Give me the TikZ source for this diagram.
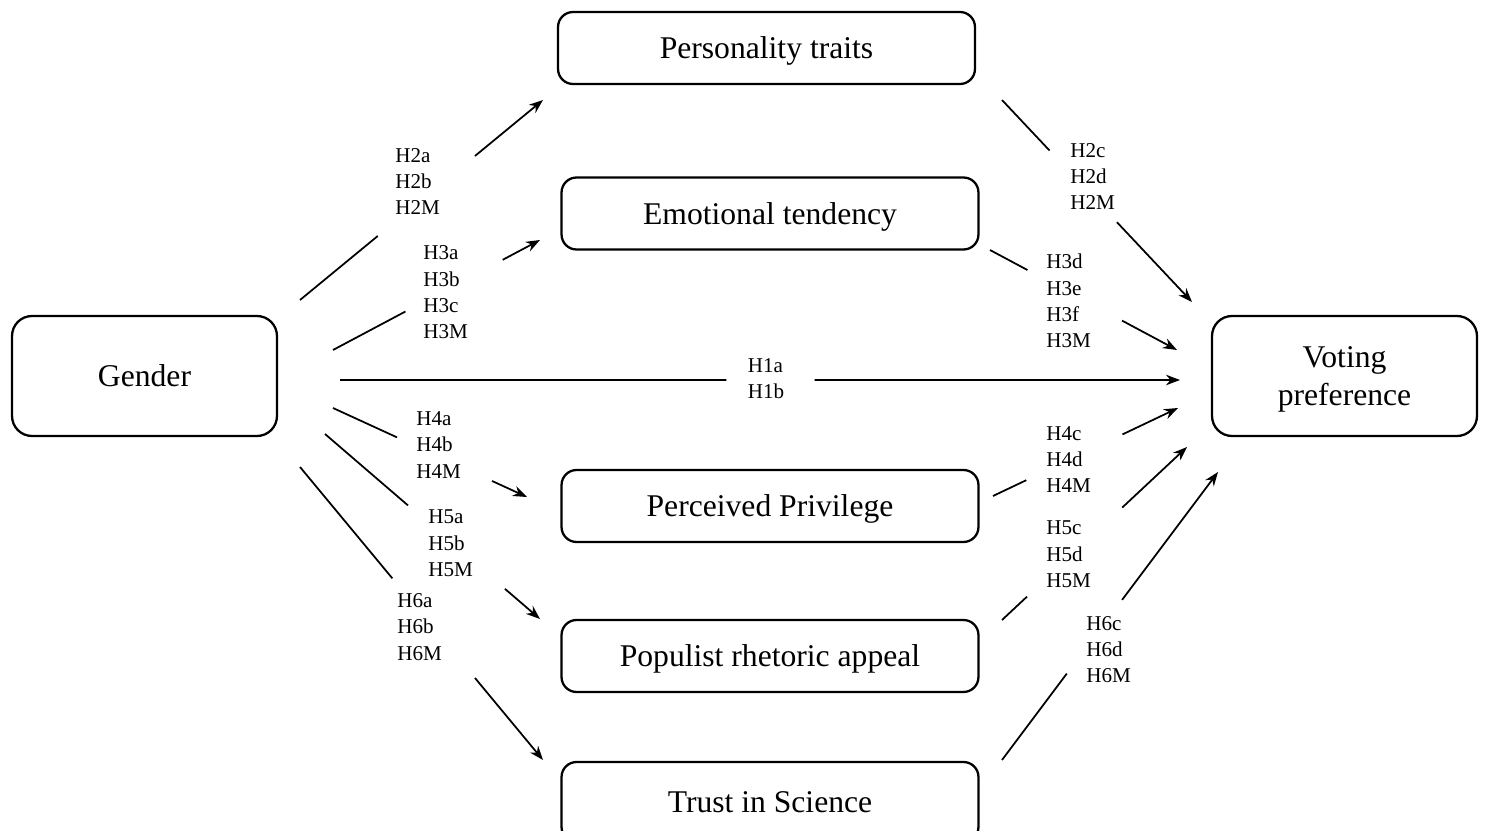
\documentclass[tikz,border=0pt]{standalone}
\usepackage{fontspec}
\setmainfont{Liberation Serif}
\usetikzlibrary{calc,arrows.meta}

\begin{document}
\begin{tikzpicture}[x=0.02cm,y=-0.02cm,
  box/.style={draw,line width=1.3pt,rounded corners=0.3cm,minimum width=8.34cm,%
  minimum height=1.44cm,text depth=0pt,font=\fontsize{18}{21.6}\selectfont},
  side/.style={box,rounded corners=0.4cm,minimum width=5.3cm,minimum height=2.4cm,align=center},
  hyp/.style={anchor=west,inner sep=0pt,align=left,font=\fontsize{12}{15}\selectfont},
  link/.style={line width=1pt},
  tip/.style={link,-{Stealth[length=8pt,width=6pt]}}]
\useasboundingbox (0,0) rectangle (1485,831);

% boxes
\node[side] (G) at (144.5,376) {Gender};
\node[side] (V) at (1344.5,376) {Voting\\preference};
\node[box] (P) at (766.5,48) {Personality traits};
\node[box] (E) at (770,213.5) {Emotional tendency};
\node[box] (R) at (770,506) {Perceived Privilege};
\node[box] (Q) at (770,656) {Populist rhetoric appeal};
\node[box,minimum height=1.6cm] (S) at (770,802) {Trust in Science};

% ends of the arrows
\coordinate (G1) at (340,380);  \coordinate (V1) at (1180,380);
\coordinate (G2) at (300,300);  \coordinate (P2) at (543,100);
\coordinate (G3) at (333,350);  \coordinate (E3) at (540,240);
\coordinate (G4) at (333,408);  \coordinate (R4) at (527,497);
\coordinate (G5) at (325,434);  \coordinate (Q5) at (540,619);
\coordinate (G6) at (300,467);  \coordinate (S6) at (543,760);
\coordinate (P7) at (1002,100); \coordinate (V7) at (1192,302);
\coordinate (E8) at (990,250);  \coordinate (V8) at (1177,350);
\coordinate (R9) at (993,496);  \coordinate (V9) at (1178,408);
\coordinate (Q10) at (1002,620); \coordinate (V10) at (1187,447);
\coordinate (S11) at (1002,760); \coordinate (V11) at (1218,472);

% gender to mediators and outcome
\draw[link] (G1) -- ($(G1)!0.46!(V1)$);
\draw[tip] ($(G1)!0.565!(V1)$) -- (V1);
\node[hyp,anchor=center] (h1) at (766,378.5) {H1a\\H1b};

\draw[link] (G2) -- ($(G2)!0.32!(P2)$);
\draw[tip] ($(G2)!0.72!(P2)$) -- (P2);
\node[hyp] (h2ab) at (395,181.5) {H2a\\H2b\\H2M};

\draw[link] (G3) -- ($(G3)!0.35!(E3)$);
\draw[tip] ($(G3)!0.82!(E3)$) -- (E3);
\node[hyp] (h3abc) at (423,292.5) {H3a\\H3b\\H3c\\H3M};

\draw[link] (G4) -- ($(G4)!0.33!(R4)$);
\draw[tip] ($(G4)!0.82!(R4)$) -- (R4);
\node[hyp] (h4ab) at (416,445) {H4a\\H4b\\H4M};

\draw[link] (G5) -- ($(G5)!0.386!(Q5)$);
\draw[tip] ($(G5)!0.837!(Q5)$) -- (Q5);
\node[hyp] (h5ab) at (428,543.5) {H5a\\H5b\\H5M};

\draw[link] (G6) -- ($(G6)!0.38!(S6)$);
\draw[tip] ($(G6)!0.72!(S6)$) -- (S6);
\node[hyp] (h6ab) at (397,627) {H6a\\H6b\\H6M};

% mediators to voting preference
\draw[link] (P7) -- ($(P7)!0.25!(V7)$);
\draw[tip] ($(P7)!0.605!(V7)$) -- (V7);
\node[hyp] (h2cd) at (1070,176.5) {H2c\\H2d\\H2M};

\draw[link] (E8) -- ($(E8)!0.2!(V8)$);
\draw[tip] ($(E8)!0.706!(V8)$) -- (V8);
\node[hyp] (h3def) at (1046,301) {H3d\\H3e\\H3f\\H3M};

\draw[link] (R9) -- ($(R9)!0.18!(V9)$);
\draw[tip] ($(R9)!0.70!(V9)$) -- (V9);
\node[hyp] (h4cd) at (1046,459.5) {H4c\\H4d\\H4M};

\draw[link] (Q10) -- ($(Q10)!0.135!(V10)$);
\draw[tip] ($(Q10)!0.65!(V10)$) -- (V10);
\node[hyp] (h5cd) at (1046,554.5) {H5c\\H5d\\H5M};

\draw[link] (S11) -- ($(S11)!0.30!(V11)$);
\draw[tip] ($(S11)!0.556!(V11)$) -- (V11);
\node[hyp] (h6cd) at (1086,649.5) {H6c\\H6d\\H6M};

\end{tikzpicture}
\end{document}
